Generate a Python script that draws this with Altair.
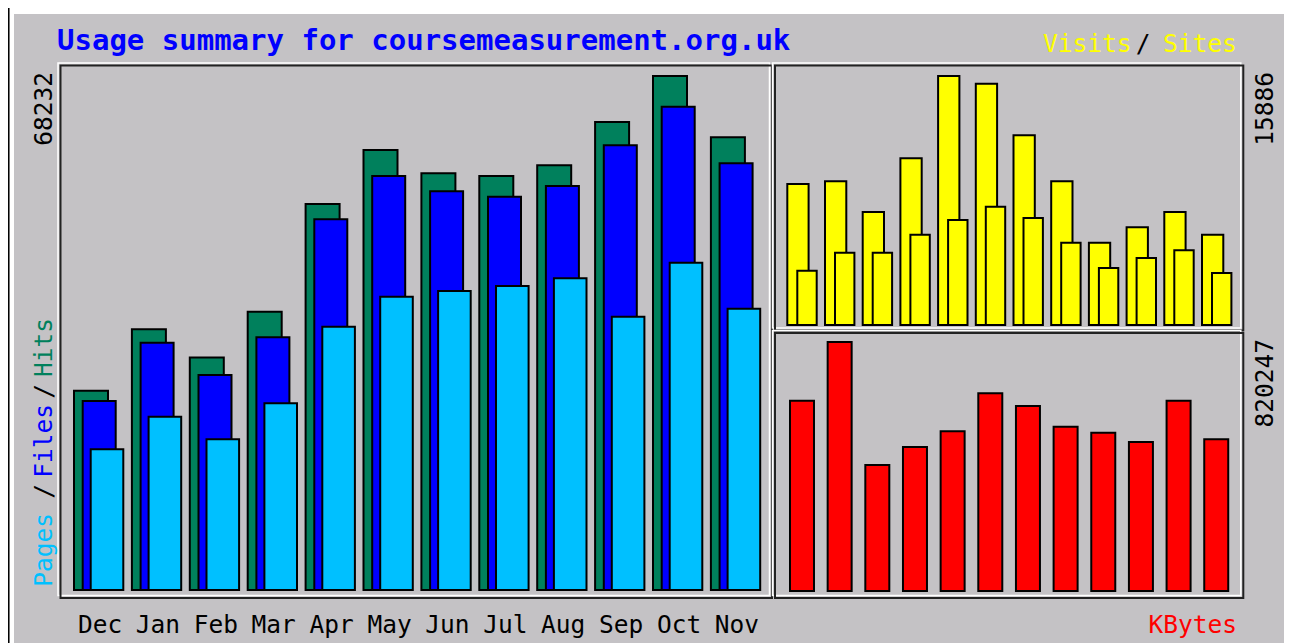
import altair as alt
import pandas as pd

# ---------------- data ----------------
months = ["Dec", "Jan", "Feb", "Mar", "Apr", "May", "Jun", "Jul", "Aug", "Sep", "Oct", "Nov"]
hits = [26460, 34610, 30860, 36940, 51240, 58410, 55320, 54960, 56380, 62130, 68232, 60100]
files = [25090, 32830, 28540, 33550, 49210, 54960, 52930, 52210, 53630, 59030, 64160, 56640]
pages = [18680, 23010, 20010, 24780, 34950, 38940, 39690, 40360, 41380, 36280, 43450, 37340]
visits = [8996, 9168, 7209, 10635, 15886, 15395, 12103, 9168, 5251, 6233, 7209, 5761]
sites = [3464, 4613, 4613, 5761, 6699, 7548, 6827, 5251, 3637, 4275, 4766, 3318]
kbytes = [626900, 820247, 415100, 474400, 526100, 651300, 609400, 541200, 521500, 490800, 626900, 499700]

max_hits = 68232
max_visits = 15886
max_kbytes = 820247

# ---------------- styling ----------------
FONT = "DejaVu Sans Mono"
GRAY = "#C4C2C5"
C_HITS = "#00805C"
C_FILES = "#0000FF"
C_PAGES = "#00C0FF"
C_VIS = "#FFFF00"
C_KB = "#FF0000"
W, H = 1276, 635

# scales (pixel ranges inside the svg)
main_x = alt.Scale(domain=[0, 12], range=[66, 760.8], nice=False, zero=False)
main_y = alt.Scale(domain=[0, max_hits], range=[582, 68], nice=False)
vis_x = alt.Scale(domain=[0, 12], range=[779.3, 1231.7], nice=False, zero=False)
vis_y = alt.Scale(domain=[0, max_visits], range=[317, 68], nice=False)
kb_x = alt.Scale(domain=[0, 12], range=[782, 1233.9], nice=False, zero=False)
kb_y = alt.Scale(domain=[0, max_kbytes], range=[583, 334], nice=False)


def bars(values, xs, ys, off, end, color):
    df = pd.DataFrame({"idx": list(range(12)), "month": months, "value": values})
    return (
        alt.Chart(df)
        .transform_calculate(x0=f"datum.idx + {off}", x1=f"datum.idx + {end}", zero="0")
        .mark_rect(fill=color, stroke="black", strokeWidth=2)
        .encode(
            x=alt.X("x0:Q", scale=xs, axis=None),
            x2="x1:Q",
            y=alt.Y("value:Q", scale=ys, axis=None),
            y2="zero:Q",
        )
    )


def label(text, x, y, color="black", size=24.5, angle=0, align="left",
          baseline="alphabetic", bold=False):
    kw = dict(font=FONT, fontSize=size, color=color, align=align, baseline=baseline)
    if angle:
        kw["angle"] = angle
    if bold:
        kw["fontWeight"] = "bold"
    return (
        alt.Chart(pd.DataFrame({"t": [text]}))
        .mark_text(**kw)
        .encode(x=alt.value(x), y=alt.value(y), text="t:N")
    )


def box(x1, y1, x2, y2, color, sw=2, fill=None):
    kw = dict(stroke=color, strokeWidth=sw)
    if fill:
        kw["fill"] = fill
    else:
        kw["filled"] = False
    return (
        alt.Chart(pd.DataFrame({"t": [0]}))
        .mark_rect(**kw)
        .encode(x=alt.value(x1), x2=alt.value(x2), y=alt.value(y1), y2=alt.value(y2))
    )


layers = []
# page / image background
layers.append(box(6, 6, 1281, 660, GRAY, sw=0.01, fill=GRAY))
layers.append(box(-1, -5, 0.8, 700, "black", sw=1.5, fill="black"))
layers.append(box(1278.7, 6, 1278.7, 660, "white", sw=1.5))
layers.append(box(1281.3, 6, 1281.3, 660, "#333333", sw=1.5))

# panel frames (white bevel then black)
for (x1, y1, x2, y2) in [(52.5, 57.5, 764, 590), (767, 57.5, 1235.3, 322.5),
                         (767, 325, 1235.3, 590)]:
    layers.append(box(x1 - 2.5, y1 - 2.5, x2 - 2.5, y2 - 2.5, "white", sw=1.5))
    layers.append(box(x1, y1, x2, y2, "#222222", sw=2))

# main panel bars
P = 57.9
layers.append(bars(hits, main_x, main_y, 0, 34 / P, C_HITS))
layers.append(bars(files, main_x, main_y, 8.7 / P, 41.7 / P, C_FILES))
layers.append(bars(pages, main_x, main_y, 16.7 / P, 49.3 / P, C_PAGES))

# visits / sites
PV = 37.7
layers.append(bars(visits, vis_x, vis_y, 0, 21.3 / PV, C_VIS))
layers.append(bars(sites, vis_x, vis_y, 10 / PV, 29.4 / PV, C_VIS))

# kbytes
PK = 37.66
layers.append(bars(kbytes, kb_x, kb_y, 0, 24 / PK, C_KB))

# month labels
mdf = pd.DataFrame({"idx": list(range(12)), "month": months})
layers.append(
    alt.Chart(mdf)
    .transform_calculate(xc=f"datum.idx + {26 / P}")
    .mark_text(font=FONT, fontSize=24.5, color="black", align="center", baseline="alphabetic")
    .encode(x=alt.X("xc:Q", scale=main_x, axis=None), y=alt.value(625), text="month:N")
)

# title and legends
layers.append(label("Usage summary for coursemeasurement.org.uk", 49, 42,
                    color="#0000FF", size=29, bold=True))
layers.append(label("Visits", 1035, 44, color=C_VIS))
layers.append(label("/", 1135, 44, align="center"))
layers.append(label("Sites", 1155, 44, color=C_VIS))
layers.append(label("KBytes", 1229, 625, color=C_KB, align="right"))

# rotated labels (left)
layers.append(label(str(max_hits), 37, 64, angle=270, align="right", baseline="middle"))
layers.append(label("Hits", 37, 310, color=C_HITS, angle=270, align="right", baseline="middle"))
layers.append(label("/", 37, 376, angle=270, align="right", baseline="middle"))
layers.append(label("Files", 37, 396, color=C_FILES, angle=270, align="right", baseline="middle"))
layers.append(label("/", 37, 476, angle=270, align="right", baseline="middle"))
layers.append(label("Pages", 37, 505, color=C_PAGES, angle=270, align="right", baseline="middle"))

# rotated labels (right)
layers.append(label(str(max_visits), 1258, 64, angle=270, align="right", baseline="middle"))
layers.append(label(str(max_kbytes), 1258, 331, angle=270, align="right", baseline="middle"))

chart = (
    alt.layer(*layers)
    .resolve_scale(x="independent", y="independent")
    .properties(width=W, height=H, padding=0,
                autosize=alt.AutoSizeParams(type="none"), background="white")
    .configure_view(stroke="transparent")
)

chart.save("out.html", embed_options={"renderer": "svg", "actions": False})
